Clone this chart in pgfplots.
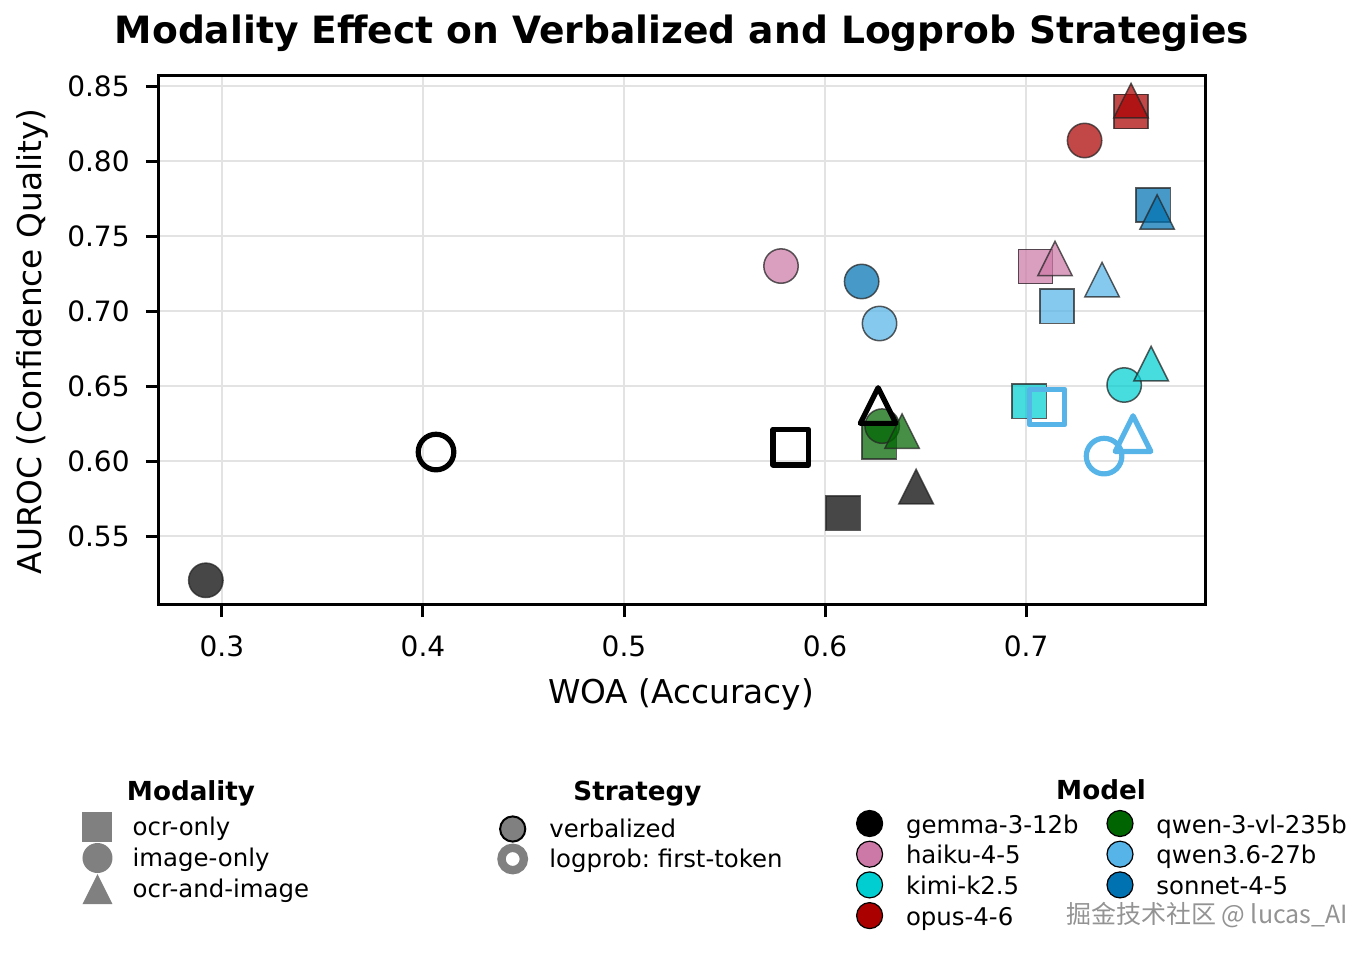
\documentclass[border=0pt]{standalone}
\usepackage{fontspec}
\setmainfont{DejaVu Sans}
\newfontfamily\cjk{Noto Sans CJK SC}
\usepackage{pgfplots}
\pgfplotsset{compat=1.18}
\frenchspacing

\definecolor{cgemma}{HTML}{000000}
\definecolor{chaiku}{HTML}{CC79A7}
\definecolor{ckimi}{HTML}{00CED1}
\definecolor{copus}{HTML}{AA0000}
\definecolor{cqvl}{HTML}{006400}
\definecolor{cqwen}{HTML}{56B4E9}
\definecolor{csonnet}{HTML}{0072B2}
\definecolor{lgray}{HTML}{808080}

\pgfdeclareplotmark{mtri*}{%
  \pgfpathmoveto{\pgfqpoint{0pt}{\pgfplotmarksize}}%
  \pgfpathlineto{\pgfqpoint{-\pgfplotmarksize}{-\pgfplotmarksize}}%
  \pgfpathlineto{\pgfqpoint{\pgfplotmarksize}{-\pgfplotmarksize}}%
  \pgfpathclose\pgfusepathqfillstroke}
\pgfdeclareplotmark{mtri}{%
  \pgfpathmoveto{\pgfqpoint{0pt}{\pgfplotmarksize}}%
  \pgfpathlineto{\pgfqpoint{-\pgfplotmarksize}{-\pgfplotmarksize}}%
  \pgfpathlineto{\pgfqpoint{\pgfplotmarksize}{-\pgfplotmarksize}}%
  \pgfpathclose\pgfusepathqstroke}

\pgfplotsset{
  verb/.style={only marks, mark size=8.6pt,
    mark options={fill=#1, fill opacity=0.72, draw=black!85, draw opacity=0.75, line width=0.75pt}},
  logp/.style={only marks, mark size=8.9pt,
    mark options={draw=#1, fill=none, line width=2.6pt, line join=round}},
  legax/.style={anchor=north west, scale only axis, width=1pt, height=1pt, hide axis,
    xmin=0, xmax=1, ymin=0, ymax=1},
}
\newcommand{\cellbox}[2]{\path[draw=none, fill=none] (0pt,-#2) rectangle (#1,#2);}

\begin{document}
\begin{tikzpicture}
\begin{axis}[
  at={(0,0)}, anchor=south west, scale only axis,
  width=523pt, height=264pt,
  xmin=0.2687, xmax=0.789, ymin=0.5047, ymax=0.8567,
  xtick={0.3,0.4,0.5,0.6,0.7},
  xticklabels={0.3,0.4,0.5,0.6,0.7},
  ytick={0.55,0.60,0.65,0.70,0.75,0.80,0.85},
  yticklabels={0.55,0.60,0.65,0.70,0.75,0.80,0.85},
  tick pos=left, tick align=outside,
  major tick length=6.5pt,
  every tick/.style={black, line width=1.5pt},
  axis line style={line width=1.5pt},
  grid=major,
  major grid style={line width=0.75pt, black!11},
  ticklabel style={font=\fontsize{14}{16}\selectfont, inner sep=0pt},
  yticklabel style={anchor=east, xshift=-8pt},
  xticklabel style={anchor=north, yshift=-9pt},
]
% gemma-3-12b
\addplot[verb=cgemma, mark=square*] coordinates {(0.609,0.5653)};
\addplot[verb=cgemma, mark=*] coordinates {(0.292,0.5205)};
\addplot[verb=cgemma, mark=mtri*] coordinates {(0.6453,0.583)};
% haiku-4-5
\addplot[verb=chaiku, mark=square*] coordinates {(0.7047,0.7297)};
\addplot[verb=chaiku, mark=*] coordinates {(0.5781,0.7300)};
\addplot[verb=chaiku, mark=mtri*] coordinates {(0.7144,0.7350)};
% kimi-k2.5
\addplot[verb=ckimi, mark=square*] coordinates {(0.7015,0.6400)};
\addplot[verb=ckimi, mark=*] coordinates {(0.7488,0.6507)};
\addplot[verb=ckimi, mark=mtri*] coordinates {(0.7622,0.6650)};
% opus-4-6
\addplot[verb=copus, mark=square*] coordinates {(0.7522,0.8330)};
\addplot[verb=copus, mark=*] coordinates {(0.7291,0.8137)};
\addplot[verb=copus, mark=mtri*] coordinates {(0.7522,0.8403)};
% qwen-3-vl-235b
\addplot[verb=cqvl, mark=square*] coordinates {(0.6269,0.6127)};
\addplot[verb=cqvl, mark=*] coordinates {(0.6284,0.6233)};
\addplot[verb=cqvl, mark=mtri*] coordinates {(0.6383,0.6200)};
% qwen3.6-27b
\addplot[verb=cqwen, mark=square*] coordinates {(0.7154,0.7033)};
\addplot[verb=cqwen, mark=*] coordinates {(0.6271,0.6917)};
\addplot[verb=cqwen, mark=mtri*] coordinates {(0.7378,0.7210)};
% sonnet-4-5
\addplot[verb=csonnet, mark=square*] coordinates {(0.7632,0.7707)};
\addplot[verb=csonnet, mark=*] coordinates {(0.6182,0.7197)};
\addplot[verb=csonnet, mark=mtri*] coordinates {(0.7652,0.7660)};
% logprob: first-token
\addplot[logp=cgemma, mark=square] coordinates {(0.5830,0.6093)};
\addplot[logp=cgemma, mark=o] coordinates {(0.4065,0.6060)};
\addplot[logp=cgemma, mark=mtri] coordinates {(0.6264,0.6370)};
\addplot[logp=cqwen, mark=square] coordinates {(0.7104,0.6360)};
\addplot[logp=cqwen, mark=o] coordinates {(0.7388,0.6033)};
\addplot[logp=cqwen, mark=mtri] coordinates {(0.7532,0.6183)};
\end{axis}

% titles and axis labels
\node[anchor=base, font=\bfseries\fontsize{18.8}{22}\selectfont] at (261.5pt,280.3pt)
  {Modality Effect on Verbalized and Logprob Strategies};
\node[anchor=base, font=\fontsize{16.4}{19}\selectfont] at (261pt,-49.5pt) {WOA (Accuracy)};
\node[anchor=base, rotate=90, font=\fontsize{16.4}{19}\selectfont] at (-58.5pt,131.3pt)
  {AUROC (Confidence Quality)};

% Modality legend
\begin{axis}[legax, at={(-30.75pt,-105pt)},
  legend style={at={(0,1)}, anchor=north west, draw=none, fill=none, inner sep=0pt, outer sep=0pt,
    row sep=2.5pt, cells={anchor=west},
    nodes={inner sep=0pt, text height=10.5pt, text depth=2.5pt, font=\fontsize{12.2}{14}\selectfont}}]
\addlegendimage{legend image code/.code={\cellbox{17.6pt}{6.5pt}
  \fill[overlay, draw=none, fill=lgray] (-7.5pt,-7.5pt) rectangle (7.5pt,7.5pt);}}
\addlegendentry{ocr-only}
\addlegendimage{legend image code/.code={\cellbox{17.6pt}{6.5pt}
  \fill[overlay, draw=none, fill=lgray] (0pt,0pt) circle (7.5pt);}}
\addlegendentry{image-only}
\addlegendimage{legend image code/.code={\cellbox{17.6pt}{6.5pt}
  \fill[overlay, draw=none, fill=lgray] (0pt,7.5pt) -- (-7.5pt,-7.5pt) -- (7.5pt,-7.5pt) -- cycle;}}
\addlegendentry{ocr-and-image}
\end{axis}
\node[anchor=base, font=\bfseries\fontsize{13.1}{15}\selectfont] at (16pt,-98pt) {Modality};

% Strategy legend
\begin{axis}[legax, at={(176.85pt,-106pt)},
  legend style={at={(0,1)}, anchor=north west, draw=none, fill=none, inner sep=0pt, outer sep=0pt,
    row sep=2pt, cells={anchor=west},
    nodes={inner sep=0pt, text height=10.5pt, text depth=2.5pt, font=\fontsize{12.2}{14}\selectfont}}]
\addlegendimage{legend image code/.code={\cellbox{18.3pt}{6.5pt}
  \filldraw[overlay, fill=lgray, draw=black, line width=1pt] (0pt,0pt) circle (6.3pt);}}
\addlegendentry{verbalized}
\addlegendimage{legend image code/.code={\cellbox{18.3pt}{6.5pt}
  \draw[overlay, fill=none, draw=lgray, line width=4.2pt] (0pt,0pt) circle (5.6pt);}}
\addlegendentry{logprob: first-token}
\end{axis}
\node[anchor=base, font=\bfseries\fontsize{13.1}{15}\selectfont] at (239.25pt,-98pt) {Strategy};

% Model legend
\begin{axis}[legax, at={(355.3pt,-103.5pt)},
  legend columns=2,
  legend style={at={(0,1)}, anchor=north west, draw=none, fill=none, inner sep=0pt, outer sep=0pt,
    row sep=2.85pt, cells={anchor=west},
    nodes={inner sep=0pt, text height=11pt, text depth=1.5pt, text width=100pt, align=left,
      font=\fontsize{12.2}{14}\selectfont}},
  /tikz/every odd column/.append style={column sep=0pt},
  /tikz/every even column/.append style={column sep=7pt}]
\addlegendimage{legend image code/.code={\cellbox{18.2pt}{6.25pt}
  \filldraw[overlay, fill=cgemma, draw=black, line width=0.6pt] (0pt,0pt) circle (6.5pt);}}
\addlegendentry{gemma-3-12b}
\addlegendimage{legend image code/.code={\cellbox{18.2pt}{6.25pt}
  \filldraw[overlay, fill=cqvl, draw=black, line width=0.6pt] (0pt,0pt) circle (6.5pt);}}
\addlegendentry{qwen-3-vl-235b}
\addlegendimage{legend image code/.code={\cellbox{18.2pt}{6.25pt}
  \filldraw[overlay, fill=chaiku, draw=black, line width=0.6pt] (0pt,0pt) circle (6.5pt);}}
\addlegendentry{haiku-4-5}
\addlegendimage{legend image code/.code={\cellbox{18.2pt}{6.25pt}
  \filldraw[overlay, fill=cqwen, draw=black, line width=0.6pt] (0pt,0pt) circle (6.5pt);}}
\addlegendentry{qwen3.6-27b}
\addlegendimage{legend image code/.code={\cellbox{18.2pt}{6.25pt}
  \filldraw[overlay, fill=ckimi, draw=black, line width=0.6pt] (0pt,0pt) circle (6.5pt);}}
\addlegendentry{kimi-k2.5}
\addlegendimage{legend image code/.code={\cellbox{18.2pt}{6.25pt}
  \filldraw[overlay, fill=csonnet, draw=black, line width=0.6pt] (0pt,0pt) circle (6.5pt);}}
\addlegendentry{sonnet-4-5}
\addlegendimage{legend image code/.code={\cellbox{18.2pt}{6.25pt}
  \filldraw[overlay, fill=copus, draw=black, line width=0.6pt] (0pt,0pt) circle (6.5pt);}}
\addlegendentry{opus-4-6}
\end{axis}
\node[anchor=base, font=\bfseries\fontsize{13.1}{15}\selectfont] at (471pt,-97.5pt) {Model};

% watermark
\node[anchor=base, font=\cjk\fontsize{12.5}{15}\selectfont, text=gray!85] at (524pt,-159.5pt)
  {掘金技术社区 @ lucas\_AI};

\pgfresetboundingbox
\useasboundingbox (-79.5pt,-175pt) rectangle (606pt,302pt);
\end{tikzpicture}
\end{document}
